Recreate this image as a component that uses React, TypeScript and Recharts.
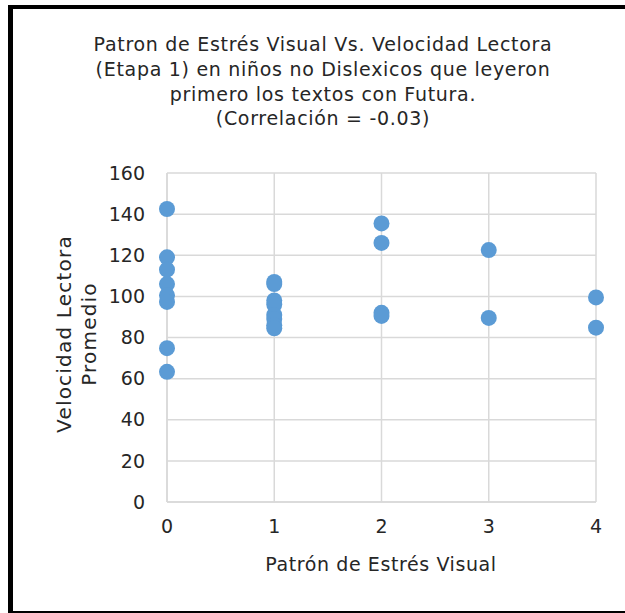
import { ScatterChart, Scatter, XAxis, YAxis, CartesianGrid } from 'recharts';

const patronValues = [0, 0, 0, 0, 0, 0, 0, 0, 1, 1, 1, 1, 1, 1, 1, 1, 2, 2, 2, 2, 3, 3, 4, 4];
const velocidadValues = [
  142.5, 119, 113, 106, 100.5, 97.3, 74.8, 63.3,
  107, 106, 98, 96, 91, 89, 86, 84.5,
  135.5, 126, 92, 90.5,
  122.5, 89.5,
  99.5, 84.8,
];
const xTicks = [0, 1, 2, 3, 4];
const yTicks = [0, 20, 40, 60, 80, 100, 120, 140, 160];
const titleLines = [
  'Patron de Estrés Visual Vs. Velocidad Lectora',
  '(Etapa 1) en niños no Dislexicos que leyeron',
  'primero los textos con Futura.',
  '(Correlación = -0.03)',
];

const data = patronValues.map((x, i) => ({ x, y: velocidadValues[i] }));

const font = '"DejaVu Sans", sans-serif';
const textColor = '#262626';

const Dot = (props: any) => <circle cx={props.cx} cy={props.cy} r={8} fill="#5b9bd5" />;

export default function App() {
  return (
    <div style={{ position: 'absolute', left: 0, top: 0, width: 625, height: 613, overflow: 'hidden', background: '#fff', fontFamily: font }}>
      <div style={{ position: 'absolute', left: 8, top: 5, width: 700, height: 602, borderLeft: '5px solid #000', borderTop: '4px solid #000', borderBottom: '2px solid #000' }} />
      <div style={{ position: 'absolute', left: 13, top: 32, width: 620, textAlign: 'center', fontSize: 19, letterSpacing: 0.7, lineHeight: '24.8px', color: textColor }}>
        {titleLines.map((l) => (
          <div key={l}>{l}</div>
        ))}
      </div>
      <ScatterChart width={625} height={613} margin={{ top: 173, right: 29, bottom: 71, left: 107 }} style={{ position: 'absolute', left: 0, top: 0 }}>
        <CartesianGrid stroke="#d9d9d9" strokeWidth={1.5} />
        <XAxis
          type="number"
          dataKey="x"
          domain={[0, 4]}
          ticks={xTicks}
          tickLine={false}
          axisLine={{ stroke: '#d9d9d9', strokeWidth: 1.5 }}
          tick={{ fill: textColor, fontSize: 19, fontFamily: font }}
          tickMargin={12}
          height={40}
        />
        <YAxis
          type="number"
          dataKey="y"
          domain={[0, 160]}
          ticks={yTicks}
          tickLine={false}
          axisLine={{ stroke: '#d9d9d9', strokeWidth: 1.5 }}
          tick={{ fill: textColor, fontSize: 19, fontFamily: font }}
          tickMargin={16}
          width={60}
        />
        <Scatter data={data} shape={Dot} isAnimationActive={false} />
      </ScatterChart>
      <div style={{ position: 'absolute', left: 180, top: 553, width: 402, textAlign: 'center', fontSize: 19, letterSpacing: 0.6, color: textColor }}>
        Patrón de Estrés Visual
      </div>
      <div style={{ position: 'absolute', left: 77, top: 334, width: 0, height: 0 }}>
        <div style={{ position: 'absolute', left: -150, top: -25, width: 300, textAlign: 'center', fontSize: 20, letterSpacing: 1.2, lineHeight: '25px', color: textColor, transform: 'rotate(-90deg)' }}>
          <div>Velocidad Lectora</div>
          <div>Promedio</div>
        </div>
      </div>
    </div>
  );
}
